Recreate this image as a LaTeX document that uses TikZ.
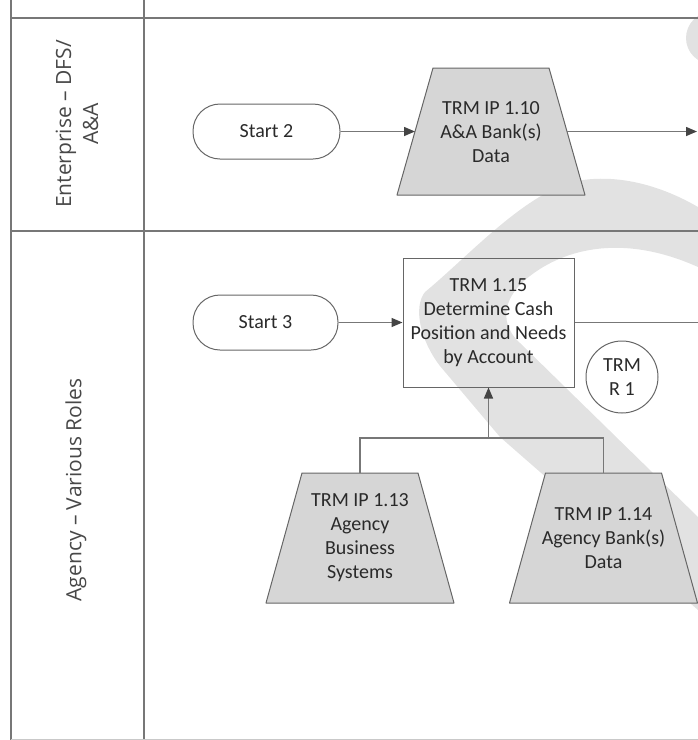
\documentclass[tikz,border=0pt]{standalone}
\usepackage{fontspec}
\setmainfont{Carlito}
\newfontfamily\lanefont{Open Sans}
\usetikzlibrary{arrows.meta}
\definecolor{ln}{HTML}{777777}
\definecolor{bd}{HTML}{666666}
\definecolor{tx}{HTML}{2A2A2A}
\definecolor{lt}{HTML}{484848}
\definecolor{trf}{HTML}{D6D6D6}
\definecolor{wm}{HTML}{E2E2E2}
\definecolor{tipc}{HTML}{444444}
\begin{document}
\begin{tikzpicture}[x=1pt,y=-1pt,
  lane/.style={draw=ln,line width=2pt},
  lanelabel/.style={rotate=90,align=center,text=lt,font=\lanefont\fontsize{21}{27}\selectfont},
  txt/.style={align=center,text=tx,font=\fontsize{20}{24}\selectfont,inner sep=0pt},
  term/.style={draw=bd,line width=1pt,rectangle,rounded corners=27pt,minimum height=55pt,txt},
  procbox/.style={draw=bd,line width=1pt,rectangle,minimum width=171pt,minimum height=129pt,txt},
  refcirc/.style={draw=bd,line width=1pt,circle,minimum size=72pt,txt},
  trapshape/.style={draw=bd,line width=1pt,fill=trf,line join=round},
  conn/.style={draw=ln,line width=1.5pt},
  arr/.style={conn,-{Triangle[length=11pt,width=9pt,color=tipc,fill=tipc]}}]
\useasboundingbox (0,0) rectangle (698,740);
% watermark
\begin{scope}
\clip (0,0) rectangle (698,740);
\fill[wm] (698,207) .. controls (660,185) and (620,175) .. (583,180) .. controls (530,187) and (470,255) .. (425,292) .. controls (413,307) and (420,340) .. (440,366) -- (500,437) -- (698,610) -- (698,517) -- (520,343) .. controls (500,325) and (502,300) .. (525,280) .. controls (560,250) and (620,232) .. (698,267) -- cycle;
\fill[wm] (712,38) circle (26);
\end{scope}
% lanes
\draw[lane] (11,0) -- (11,740);
\draw[lane] (144,0) -- (144,740);
\draw[lane] (11,18) -- (698,18);
\draw[lane] (11,231) -- (698,231);
\draw[draw=ln!40,line width=1pt] (11,739) -- (698,739);
\node[lanelabel] (lab1) at (77,124) {Enterprise – DFS/\\A\&A};
\node[lanelabel] (lab2) at (76,490) {Agency – Various Roles};
% trapezoid outlines
\path[trapshape] (397,195) -- (585,195) -- (549,68) -- (433,68) -- cycle;
\path[trapshape] (266,603) -- (454,603) -- (418,473) -- (302,473) -- cycle;
\path[trapshape] (509.5,603) -- (697.5,603) -- (661.5,473) -- (545.5,473) -- cycle;
% nodes
\node[term,minimum width=147pt] (s2) at (266.5,131.5) {Start 2};
\node[txt] (t110) at (491,132) {TRM IP 1.10\\A\&A Bank(s)\\Data};
\node[term,minimum width=145pt] (s3) at (265.5,322.5) {Start 3};
\node[procbox] (p115) at (488.5,322.5) {TRM 1.15\\Determine Cash\\Position and Needs\\by Account};
\node[refcirc] (r1) at (622,377) {TRM\\R 1};
\node[txt] (t113) at (360,538) {TRM IP 1.13\\Agency\\Business\\Systems};
\node[txt] (t114) at (603.5,538) {TRM IP 1.14\\Agency Bank(s)\\Data};
\coordinate (t110w) at (415,131.5);
\coordinate (t110e) at (567,131.5);
\coordinate (t113n) at (360,473);
\coordinate (t114n) at (603.5,473);
\coordinate (e1) at (697,131.5);
\coordinate (e2) at (698,322.5);
\coordinate (j) at (488.5,438);
% connectors
\draw[arr] (s2) -- (t110w);
\draw[arr] (t110e) -- (e1);
\draw[arr] (s3) -- (p115);
\draw[conn] (p115) -- (e2);
\draw[conn] (t113n) -- (t113n |- j) -| (t114n);
\draw[arr] (j) -- (p115.south);
\end{tikzpicture}
\end{document}
